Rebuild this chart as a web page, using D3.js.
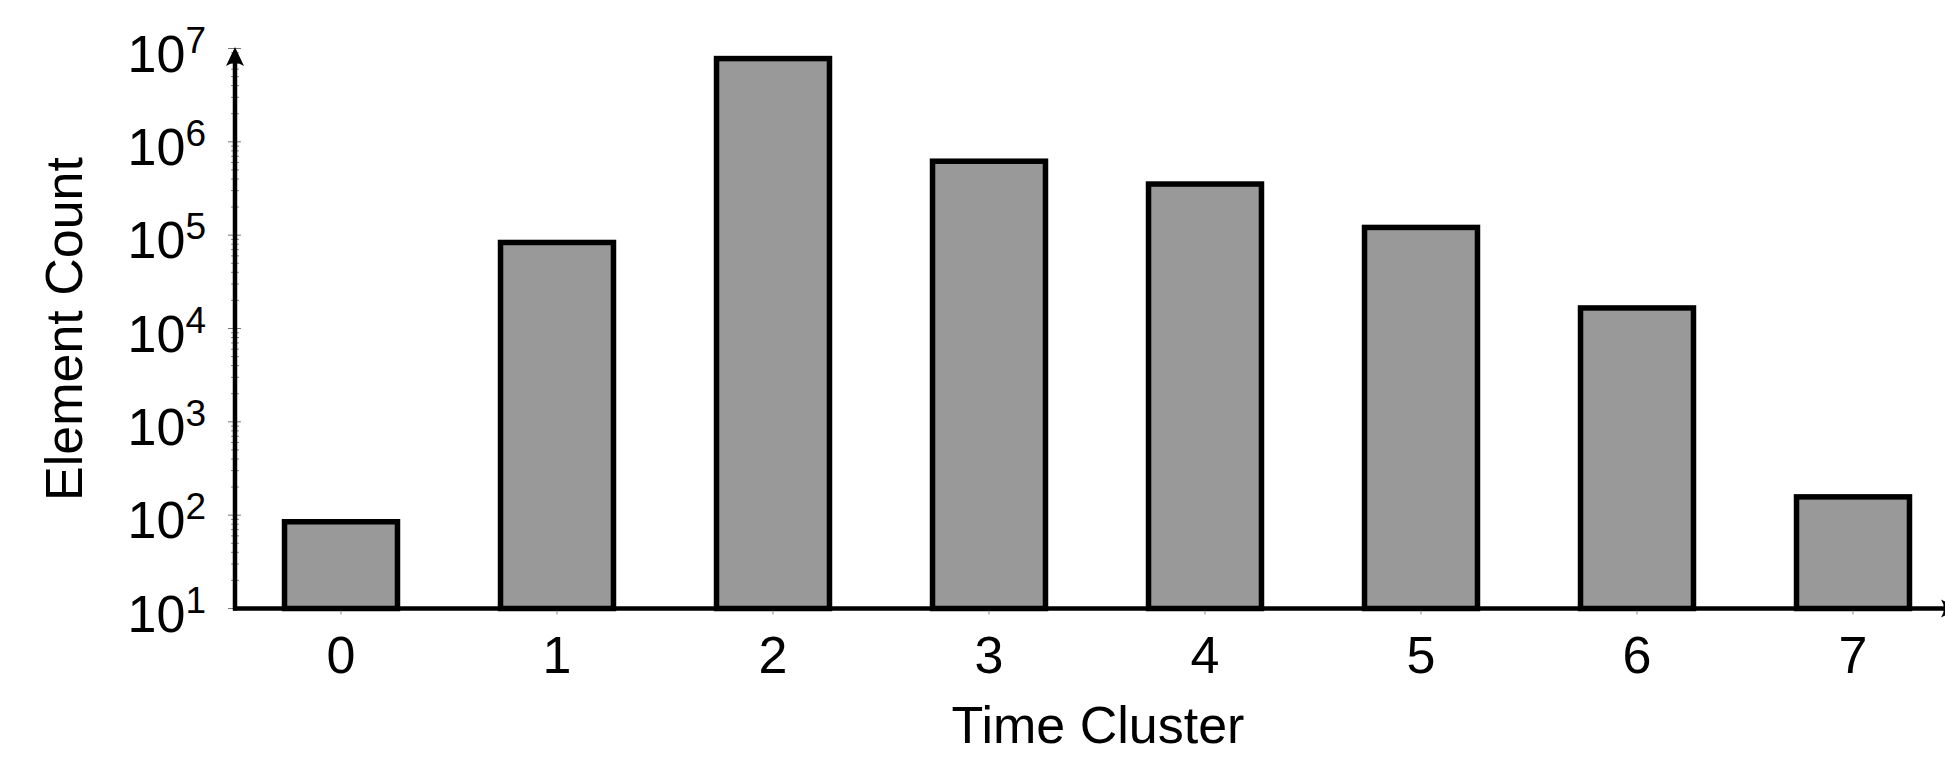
<!DOCTYPE html>
<html>
<head>
<meta charset="utf-8">
<script src="https://cdn.jsdelivr.net/npm/d3@7"></script>
<style>
  html, body { margin: 0; padding: 0; background: #ffffff; }
  svg { display: block; }
  text { font-family: "Liberation Sans", Arial, Helvetica, sans-serif; fill: #000; }
</style>
</head>
<body>
<svg id="chart" width="1945" height="758"></svg>
<script>
// ---- data ----
const categories = ["0", "1", "2", "3", "4", "5", "6", "7"];
const counts = [85, 83500, 7800000, 620000, 353000, 121000, 16600, 157];
const yTickExponents = [1, 2, 3, 4, 5, 6, 7];
const xTitle = "Time Cluster";
const yTitle = "Element Count";

// ---- layout ----
const svg = d3.select("#chart");

const x = d3.scaleBand()
  .domain(categories)
  .range([233, 233 + 216 * 8])
  .paddingInner(0.477)
  .paddingOuter(0.2385);

const y = d3.scaleLog()
  .domain([10, 1e7])
  .range([608.5, 48.5]);

const axisX0 = 235;         // y-axis line x
const axisY0 = y(10);       // x-axis line y

// ---- bars ----
svg.append("g").selectAll("rect")
  .data(categories)
  .join("rect")
  .attr("x", d => x(d))
  .attr("width", x.bandwidth())
  .attr("y", (d, i) => y(counts[i]))
  .attr("height", (d, i) => y(10) - y(counts[i]))
  .attr("fill", "#999999")
  .attr("stroke", "#000")
  .attr("stroke-width", 5.5);

// ---- y ticks (major + minor) ----
const minor = [];
yTickExponents.slice(0, -1).forEach(e => {
  for (let k = 2; k <= 9; k++) minor.push(k * Math.pow(10, e));
});
const gTicks = svg.append("g");
gTicks.selectAll("line.minor")
  .data(minor)
  .join("line")
  .attr("class", "minor")
  .attr("x1", axisX0 - 4).attr("x2", axisX0 + 4)
  .attr("y1", d => y(d)).attr("y2", d => y(d))
  .attr("stroke", "#888").attr("stroke-width", 1);
gTicks.selectAll("line.major")
  .data(yTickExponents)
  .join("line")
  .attr("class", "major")
  .attr("x1", axisX0 - 7).attr("x2", axisX0 + 6)
  .attr("y1", e => y(Math.pow(10, e))).attr("y2", e => y(Math.pow(10, e)))
  .attr("stroke", "#777").attr("stroke-width", 1);

// x ticks
svg.append("g").selectAll("line")
  .data(categories)
  .join("line")
  .attr("x1", d => x(d) + x.bandwidth() / 2)
  .attr("x2", d => x(d) + x.bandwidth() / 2)
  .attr("y1", axisY0).attr("y2", axisY0 + 6)
  .attr("stroke", "#888").attr("stroke-width", 1);

// ---- axis lines with arrows ----
svg.append("line")
  .attr("x1", axisX0).attr("x2", axisX0)
  .attr("y1", axisY0 + 2).attr("y2", 60)
  .attr("stroke", "#000").attr("stroke-width", 4.5);
svg.append("path")
  .attr("d", `M${axisX0},47 L${axisX0 - 9},66 Q${axisX0},60 ${axisX0 + 9},66 Z`)
  .attr("fill", "#000");

svg.append("line")
  .attr("x1", axisX0 - 2).attr("x2", 1950)
  .attr("y1", axisY0).attr("y2", axisY0)
  .attr("stroke", "#000").attr("stroke-width", 4.5);
svg.append("path")
  .attr("d", `M1960,${axisY0} L1941,${axisY0 - 9} Q1947,${axisY0} 1941,${axisY0 + 9} Z`)
  .attr("fill", "#000");

// ---- y tick labels ----
const yLab = svg.append("g").selectAll("text")
  .data(yTickExponents)
  .join("text")
  .attr("x", 206)
  .attr("y", e => y(Math.pow(10, e)) + 23)
  .attr("text-anchor", "end")
  .style("font-size", "52px");
yLab.append("tspan").text("10");
yLab.append("tspan")
  .attr("dy", -19)
  .style("font-size", "37px")
  .text(e => String(e));

// ---- x tick labels ----
svg.append("g").selectAll("text")
  .data(categories)
  .join("text")
  .attr("x", d => x(d) + x.bandwidth() / 2)
  .attr("y", 673)
  .attr("text-anchor", "middle")
  .style("font-size", "52px")
  .text(d => d);

// ---- titles ----
svg.append("text")
  .attr("x", 1098).attr("y", 743)
  .attr("text-anchor", "middle")
  .style("font-size", "52px")
  .text(xTitle);

svg.append("text")
  .attr("transform", "translate(82,329) rotate(-90)")
  .attr("text-anchor", "middle")
  .style("font-size", "52px")
  .text(yTitle);
</script>
</body>
</html>
